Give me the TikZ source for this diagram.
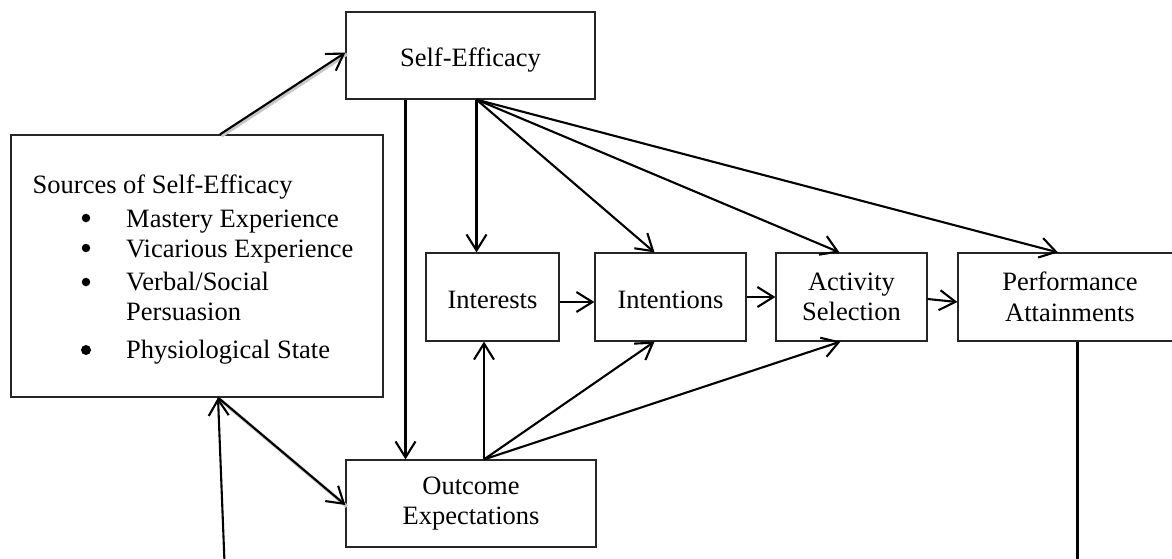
\documentclass[tikz,border=0pt]{standalone}
\usepackage{fontspec}
\setmainfont{Liberation Serif}
\usetikzlibrary{arrows.meta,calc}
\begin{document}
\begin{tikzpicture}[x=1pt,y=-1pt,
  every node/.style={font=\fontsize{26.5}{30.5}\selectfont, inner sep=0pt},
  box/.style={draw=black!85, line width=1.2pt, rectangle, align=center},
  onel/.style={text height=23pt, text depth=0pt},
  dot/.style={circle, fill=black, minimum size=8.5pt},
  arr/.style={line width=2.1pt, -{Straight Barb[length=16pt,width=20pt,line width=2.1pt]}},
  shd/.style={preaction={draw=black!22, line width=3.5pt, -, transform canvas={shift={(1.5pt,-1.5pt)}}}},
  plainline/.style={line width=2.1pt}
]
\useasboundingbox (0,0) rectangle (1172,558);

\node[box, onel, text height=21pt, minimum width=249pt, minimum height=87pt] (se) at (470.5,55.5) {Self-Efficacy};
\node[box, minimum width=372pt, minimum height=262pt] (src) at (197,266) {};
\node[box, onel, minimum width=133pt, minimum height=88pt] (int) at (492.5,297) {Interests};
\node[box, onel, minimum width=151pt, minimum height=88pt] (intn) at (670.5,297) {Intentions};
\node[box, minimum width=151pt, minimum height=88pt] (act) at (851.5,297) {Activity\\Selection};
\node[box, minimum width=224pt, minimum height=88pt] (perf) at (1070,297) {Performance\\Attainments};
\node[box, minimum width=250pt, minimum height=87pt] (out) at (471,503.5) {Outcome\\Expectations};

\node[anchor=base west] (srct) at (32.5,193) {Sources of Self-Efficacy};
\node[dot] (b1) at (86,218) {};
\node[anchor=base west] (m1) at (126,227) {Mastery Experience};
\node[dot] (b2) at (86,248) {};
\node[anchor=base west] (m2) at (126,257) {Vicarious Experience};
\node[dot] (b3) at (86,282) {};
\node[anchor=base west] (m3) at (126,290) {Verbal/Social};
\node[anchor=base west] (m3b) at (126,320) {Persuasion};
\node[dot, minimum size=10pt] (b4) at (86,350) {};
\node[anchor=base west] (m4) at (126,358) {Physiological State};

\coordinate (sefan) at ([xshift=6pt]se.south);
\coordinate (sev) at ([xshift=-65pt]se.south);
\coordinate (outfan) at ([xshift=13pt]out.north);
\coordinate (srcb) at ([xshift=21pt]src.south);
\coordinate (fbr) at (1077.5,575);
\coordinate (fbl) at (225,575);

\draw[arr, shd] ([xshift=23pt]src.north) -- ([yshift=3pt]se.west);
\draw[arr] (sev) -- (sev |- out.north);

\draw[arr] (sefan) -- ([xshift=-16pt]int.north);
\draw[arr] (sefan) -- ([xshift=-16pt]intn.north);
\draw[arr] (sefan) -- ([xshift=-12pt]act.north);
\draw[arr] (sefan) -- ([xshift=-12pt]perf.north);

\draw[arr] (outfan) -- ([xshift=-8.5pt]int.south);
\draw[arr] (outfan) -- ([xshift=-16pt]intn.south);
\draw[arr] (outfan) -- ([xshift=-11pt]act.south);

\draw[arr] ([yshift=-5pt]int.east) -- ([yshift=-5pt]intn.west);
\draw[arr] (intn.east) -- (act.west);
\draw[arr] ([yshift=-2pt]act.east) -- ([yshift=-5pt]perf.west);

\draw[arr, shd] (srcb) -- ([yshift=-1.5pt]out.west);
\draw[plainline] ([xshift=7.5pt]perf.south) -- (fbr);
\draw[arr] (fbl) -- (srcb);
\end{tikzpicture}
\end{document}
